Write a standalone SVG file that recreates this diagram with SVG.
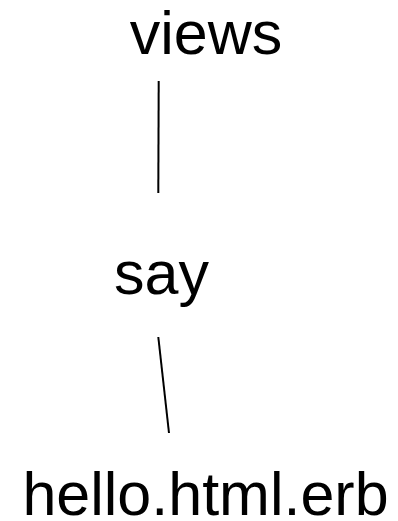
<svg xmlns="http://www.w3.org/2000/svg" width="398" height="521" viewBox="0 0 398 521">
<style>
text{font-family:"Liberation Sans",Arial,sans-serif;font-size:61px;fill:#000;text-anchor:middle}
line{stroke:#000;stroke-width:2}
</style>
<rect width="398" height="521" fill="#fff"/>
<g id="connectors">
<line x1="158.7" y1="81" x2="158.3" y2="193"/>
<line x1="158.3" y1="337" x2="169" y2="433"/>
</g>
<g id="views"><text x="206" y="54">views</text></g>
<g id="say"><text x="161.5" y="294">say</text></g>
<g id="hello"><text x="205.5" y="515">hello.html.erb</text></g>
</svg>
